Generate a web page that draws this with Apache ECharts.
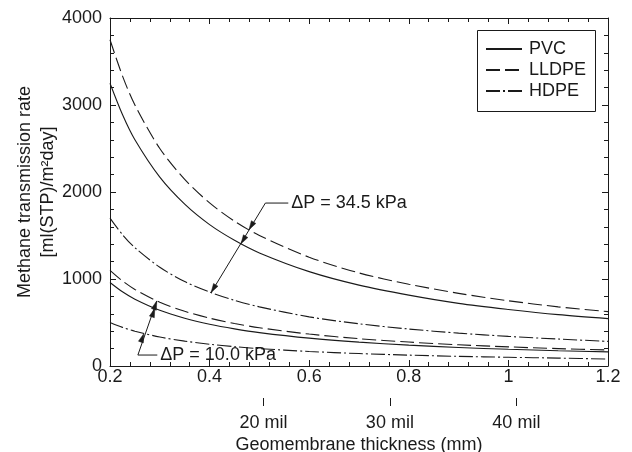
<!DOCTYPE html>
<html>
<head>
<meta charset="utf-8">
<script src="https://cdn.jsdelivr.net/npm/echarts@6/dist/echarts.min.js"></script>
<style>html,body{margin:0;padding:0;background:#fff}#c{width:632px;height:452px}</style>
</head>
<body>
<div id="c"></div>
<script>
// Thickness (mm)
const thickness = [0.2,0.225,0.25,0.3,0.35,0.4,0.45,0.5,0.6,0.7,0.8,0.9,1.0,1.1,1.2];
// Methane transmission rate, ΔP = 34.5 kPa
const pvcHigh   = [3250,2890,2600,2170,1860,1625,1445,1300,1085,930,815,720,650,590,545];
const lldpeHigh = [3750,3335,3000,2500,2145,1875,1665,1500,1250,1070,940,835,750,680,625];
const hdpeHigh  = [1700,1510,1360,1135,970,850,755,680,565,485,425,378,340,310,283];
// Methane transmission rate, ΔP = 10.0 kPa
const lldpeLow  = [1100,978,880,733,629,550,489,440,367,314,275,244,220,200,184];
const pvcLow    = [960,853,768,640,549,480,427,384,320,274,240,213,192,175,162];
const hdpeLow   = [500,444,400,333,286,250,222,200,167,143,125,111,100,91,80];
// Secondary axis ticks (mil)
const milTicks = [20, 30, 40];
const materials = ['PVC','LLDPE','HDPE'];
// Annotation anchor points (data coords)
const ann34Text = '\u0394P = 34.5 kPa';
const ann34Leader = [[0.558,1873],[0.512,1873]];
const ann34Arrows = [[0.479,1566],[0.463,1404],[0.403,844]];
const ann10Text = '\u0394P = 10.0 kPa';
const ann10Leader = [[0.295,126],[0.256,126]];
const ann10Arrows = [[0.268,373],[0.290,662],[0.294,748]];

const FONT = 'Liberation Sans, Arial, sans-serif';
const INK = '#1a1a1a';
const styles = {
  PVC: 'solid',
  LLDPE: [14,5],
  HDPE: [14,3,2,3]
};
function mk(name, arr){
  return {
    name: name, type: 'line', xAxisIndex: 0, yAxisIndex: 0,
    data: thickness.map((x,i)=>[x, arr[i]]),
    smooth: 0.3, symbol: 'none', showSymbol: false, silent: true,
    lineStyle: {color: INK, width: 1.1, type: styles[name]},
    itemStyle: {color: INK}
  };
}
const chart = echarts.init(document.getElementById('c'), null, {renderer:'canvas'});
const boxAxis = (extra) => Object.assign({
  type:'value', min:0.2, max:1.2, interval:0.2,
  axisLine:{show:true, onZero:false, lineStyle:{color:INK, width:1}},
  axisTick:{show:true, inside:true, length:6, lineStyle:{color:INK}},
  minorTick:{show:true, splitNumber:5, length:4, lineStyle:{color:INK}},
  splitLine:{show:false}, minorSplitLine:{show:false}
}, extra);
const milValues = milTicks.map(m => m*0.0254);
chart.setOption({
  animation:false,
  backgroundColor:'#fff',
  textStyle:{fontFamily:FONT},
  grid:{left:110, right:24, top:18, bottom:86, containLabel:false, outerBoundsMode:'none'},
  legend:{
    data: materials, orient:'vertical', left:475, top:28,
    itemWidth:36, itemHeight:14, itemGap:3,
    padding:[12,6,9,10],
    borderWidth:0, backgroundColor:'rgba(0,0,0,0)',
    selectedMode:false,
    itemStyle:{opacity:0, borderWidth:0},
    textStyle:{fontFamily:FONT, fontSize:18, color:INK, padding:[0,0,0,2]}
  },
  xAxis:[
    boxAxis({position:'bottom', axisLabel:{show:true, fontSize:18, color:INK, margin:2, fontFamily:FONT,
      formatter:(v)=>String(+v.toFixed(1))}}),
    boxAxis({position:'top', axisLabel:{show:false}}),
    {type:'value', min:0.2, max:1.2, position:'bottom', offset:32,
     axisLine:{show:true, onZero:false, lineStyle:{color:'#fff', opacity:0}}, splitLine:{show:false},
     axisTick:{show:true, inside:false, length:8, customValues:milValues, lineStyle:{color:INK}},
     axisLabel:{show:true, customValues:milValues, fontSize:18, color:INK, margin:16, fontFamily:FONT,
       formatter:(v)=>Math.round(v/0.0254)+' mil'},
     name:'Geomembrane thickness (mm)', nameLocation:'middle', nameGap:38, nameMoveOverlap:false,
     nameTextStyle:{fontSize:18, color:INK, fontFamily:FONT}}
  ],
  yAxis:[
    {type:'value', min:0, max:4000, interval:1000, position:'left',
     axisLine:{show:true, onZero:false, lineStyle:{color:INK}},
     axisTick:{show:true, inside:true, length:6, lineStyle:{color:INK}},
     minorTick:{show:true, splitNumber:5, length:4, lineStyle:{color:INK}},
     splitLine:{show:false},
     axisLabel:{fontSize:18, color:INK, margin:8, fontFamily:FONT, formatter:(v)=>String(v)},
     name:'Methane transmission rate\n[ml(STP)/m\u00B2day]', nameLocation:'middle', nameGap:50, nameRotate:90,
     nameMoveOverlap:false,
     nameTextStyle:{fontSize:18, color:INK, lineHeight:23, fontFamily:FONT, align:'center'}},
    {type:'value', min:0, max:4000, interval:1000, position:'right',
     axisLine:{show:true, onZero:false, lineStyle:{color:INK}},
     axisTick:{show:true, inside:true, length:6, lineStyle:{color:INK}},
     minorTick:{show:true, splitNumber:5, length:4, lineStyle:{color:INK}},
     splitLine:{show:false}, axisLabel:{show:false}}
  ],
  series:[
    mk('PVC', pvcHigh), mk('LLDPE', lldpeHigh), mk('HDPE', hdpeHigh),
    mk('PVC', pvcLow), mk('LLDPE', lldpeLow), mk('HDPE', hdpeLow)
  ]
});

function px(p){ return chart.convertToPixel({xAxisIndex:0, yAxisIndex:0}, p); }
function annotation(text, leader, arrows){
  const els = [];
  const lp = leader.map(px);
  const tips = arrows.map(px);
  const last = tips[tips.length-1];
  const pts = lp.concat([last]);
  els.push({type:'polyline', shape:{points:pts}, style:{stroke:INK, lineWidth:1, fill:null}, silent:true, z:100});
  const start = lp[lp.length-1];
  let dx = last[0]-start[0], dy = last[1]-start[1];
  const len = Math.hypot(dx,dy); dx/=len; dy/=len;
  const nx = -dy, ny = dx, L = 9, W = 2.6;
  tips.forEach(t=>{
    els.push({type:'polygon', shape:{points:[
      [t[0], t[1]],
      [t[0]-dx*L+nx*W, t[1]-dy*L+ny*W],
      [t[0]-dx*L-nx*W, t[1]-dy*L-ny*W]
    ]}, style:{fill:INK, stroke:INK, lineWidth:0.5}, silent:true, z:100});
  });
  els.push({type:'text', x: lp[0][0]+3, y: lp[0][1], style:{text:text, fill:INK, font:'18px '+FONT,
    textVerticalAlign:'middle', verticalAlign:'middle', align:'left'}, silent:true, z:101});
  return els;
}
const legendBox = {type:'rect', left:475, top:28, shape:{width:118, height:81},
  style:{fill:null, stroke:INK, lineWidth:1}, silent:true, z:50};
chart.setOption({graphic: [legendBox].concat(annotation(ann34Text, ann34Leader, ann34Arrows), annotation(ann10Text, ann10Leader, ann10Arrows))});
</script>
</body>
</html>
